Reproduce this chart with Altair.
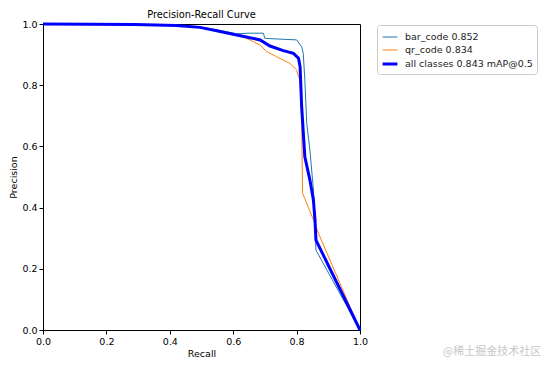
import altair as alt
import pandas as pd

series_names = ["bar_code 0.852", "qr_code 0.834", "all classes 0.843 mAP@0.5"]
series_colors = ["#1f77b4", "#ff7f0e", "#0000ff"]
series_widths = [1, 1, 3]

bar_recall = [0, 0.29, 0.42, 0.495, 0.548, 0.611, 0.65, 0.695, 0.70, 0.80, 0.816, 0.821, 0.826, 0.832, 0.842, 0.853, 0.858, 0.861, 1.0]
bar_precision = [1.0, 0.998, 0.996, 0.99, 0.981, 0.968, 0.97, 0.97, 0.953, 0.948, 0.926, 0.904, 0.817, 0.675, 0.588, 0.458, 0.37, 0.261, 0.0]

qr_recall = [0, 0.29, 0.42, 0.495, 0.548, 0.621, 0.653, 0.685, 0.705, 0.737, 0.779, 0.80, 0.806, 0.811, 0.816, 0.819, 0.853, 0.869, 1.0]
qr_precision = [1.0, 0.998, 0.995, 0.989, 0.978, 0.962, 0.948, 0.931, 0.91, 0.893, 0.871, 0.85, 0.828, 0.817, 0.675, 0.447, 0.36, 0.316, 0.0]

all_recall = [0, 0.29, 0.42, 0.495, 0.548, 0.611, 0.685, 0.716, 0.758, 0.79, 0.806, 0.811, 0.816, 0.826, 0.842, 0.853, 0.858, 0.861, 1.0]
all_precision = [1.0, 0.998, 0.995, 0.989, 0.978, 0.964, 0.948, 0.928, 0.913, 0.904, 0.888, 0.86, 0.73, 0.566, 0.49, 0.425, 0.36, 0.294, 0.0]

rows = []
for name, rs, ps in zip(series_names, [bar_recall, qr_recall, all_recall], [bar_precision, qr_precision, all_precision]):
    for i, (r, p) in enumerate(zip(rs, ps)):
        rows.append({"series": name, "recall": r, "precision": p, "idx": i})
df = pd.DataFrame(rows)

FONT = "DejaVu Sans"

lines = alt.Chart(df).mark_line(clip=False).encode(
    x=alt.X("recall:Q", scale=alt.Scale(domain=[0, 1], nice=False),
            axis=alt.Axis(title="Recall", values=[0, 0.2, 0.4, 0.6, 0.8, 1.0], format=".1f", labelFlush=False)),
    y=alt.Y("precision:Q", scale=alt.Scale(domain=[0, 1], nice=False),
            axis=alt.Axis(title="Precision", values=[0, 0.2, 0.4, 0.6, 0.8, 1.0], format=".1f", labelFlush=False)),
    color=alt.Color("series:N", scale=alt.Scale(domain=series_names, range=series_colors),
                    legend=alt.Legend(title=None)),
    strokeWidth=alt.StrokeWidth("series:N",
                                scale=alt.Scale(type="ordinal", domain=series_names, range=series_widths),
                                legend=alt.Legend(title=None)),
    order="idx:Q",
)

watermark = alt.Chart(pd.DataFrame({"t": ["@稀土掘金技术社区"]})).mark_text(
    font="Noto Sans CJK SC", fontSize=11, color="#c8c8c8", align="center", baseline="middle"
).encode(text="t:N", x=alt.value(449), y=alt.value(328))

chart = alt.layer(lines, watermark).properties(
    width=317, height=306,
    title=alt.TitleParams("Precision-Recall Curve", font=FONT, fontSize=9.8, fontWeight="normal", color="black", offset=-2),
    autosize=alt.AutoSizeParams(type="none"),
    padding={"left": 35, "top": 16, "right": 185, "bottom": 30},
).configure_view(stroke="black", strokeWidth=1).configure_axis(
    domainColor="black", tickColor="black", tickSize=4, grid=False,
    labelFont=FONT, labelFontSize=9.5, labelColor="black",
    titleFont=FONT, titleFontSize=9.5, titleFontWeight="normal", titleColor="black",
    labelPadding=2, titlePadding=3,
).configure_legend(
    orient="none", legendX=334, legendY=1, strokeColor="#cccccc", cornerRadius=3,
    padding=4, fillColor="white", symbolType="stroke", symbolSize=220,
    labelFont=FONT, labelFontSize=9.5, labelColor="#222222", rowPadding=0, labelOffset=6,
)

chart.save("out.html", embed_options={"renderer": "svg", "actions": False})
